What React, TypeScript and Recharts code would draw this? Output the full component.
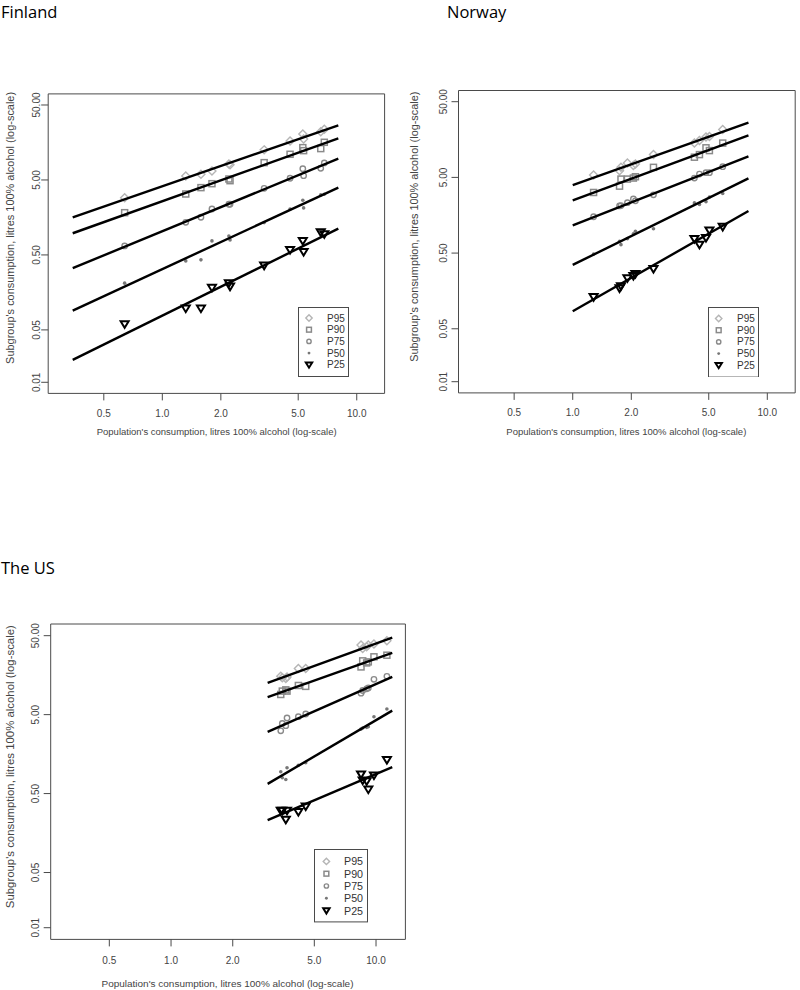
import React from "react";
import { ScatterChart, Scatter, XAxis, YAxis, ReferenceArea, Legend } from "recharts";

const SERIES = ["P95", "P90", "P75", "P50", "P25"];
const X_TICKS = [0.5, 1, 2, 5, 10];
const Y_TICKS = [0.01, 0.05, 0.5, 5, 50];
const X_DOMAIN = [0.2588, 13.91];
const Y_DOMAIN = [0.00711, 70.3];

// Finland
const FI_X = [0.64, 1.32, 1.58, 1.8, 2.2, 2.23, 3.34, 4.54, 5.28, 5.33, 6.53, 6.81];
const FI_P95 = [2.9, 5.65, 5.96, 6.59, 8.17, 8.0, 12.6, 16.6, 20.5, 17.6, 22.0, 23.7];
const FI_P90 = [1.83, 3.25, 3.95, 4.46, 5.15, 4.89, 8.51, 11.0, 13.5, 12.3, 13.1, 15.9];
const FI_P75 = [0.659, 1.36, 1.59, 2.05, 2.37, 2.37, 3.87, 5.27, 7.08, 5.7, 7.16, 8.43];
const FI_P50 = [0.21, 0.416, 0.43, 0.769, 0.895, 0.793, 1.35, 2.05, 2.68, 2.12, 3.16, 3.22];
const FI_P25 = [0.0596, 0.0962, 0.0962, 0.182, 0.21, 0.189, 0.36, 0.583, 0.769, 0.548, 1.0, 0.944];
const FI_FIT_X = [0.346, 8.04];
const FI_FIT_P95 = [1.59, 26.8];
const FI_FIT_P90 = [0.973, 18.0];
const FI_FIT_P75 = [0.333, 9.6];
const FI_FIT_P50 = [0.0904, 3.95];
const FI_FIT_P25 = [0.0199, 1.12];

// Norway
const NO_X = [1.28, 1.74, 1.77, 1.91, 2.05, 2.1, 2.6, 4.22, 4.48, 4.84, 5.04, 5.9];
const NO_P95 = [5.37, 6.14, 6.79, 7.76, 7.2, 7.53, 10.0, 14.2, 15.4, 17.1, 17.4, 21.4];
const NO_P90 = [3.16, 3.83, 4.75, 4.75, 4.9, 5.1, 6.79, 9.24, 10.0, 12.3, 11.3, 14.2];
const NO_P75 = [1.51, 2.1, 2.12, 2.32, 2.6, 2.45, 2.94, 4.9, 5.53, 5.77, 5.77, 6.93];
const NO_P50 = [0.485, 0.716, 0.646, 0.776, 0.9, 0.973, 1.05, 2.3, 2.2, 2.39, 2.76, 3.06];
const NO_P25 = [0.131, 0.171, 0.183, 0.232, 0.249, 0.265, 0.309, 0.769, 0.646, 0.793, 0.993, 1.11];
const NO_FIT_X = [1.0, 8.0];
const NO_FIT_P95 = [3.95, 26.5];
const NO_FIT_P90 = [2.49, 18.0];
const NO_FIT_P75 = [1.16, 9.5];
const NO_FIT_P50 = [0.349, 4.85];
const NO_FIT_P25 = [0.0851, 1.8];

// The US
const US_X = [3.43, 3.49, 3.63, 3.68, 4.18, 4.54, 8.45, 8.61, 9.0, 9.17, 9.77, 11.3];
const US_P95 = [15.3, 14.7, 14.3, 15.0, 19.2, 19.2, 38.0, 34.4, 36.2, 38.0, 39.2, 43.2];
const US_P90 = [9.0, 9.93, 10.3, 9.93, 11.7, 11.4, 20.1, 24.0, 22.6, 23.3, 27.0, 28.3];
const US_P75 = [3.12, 3.87, 3.62, 4.53, 4.71, 5.09, 9.35, 10.1, 10.6, 10.9, 14.0, 15.3];
const US_P50 = [0.946, 0.793, 0.755, 1.06, 1.14, 1.23, 3.28, 3.38, 3.45, 3.51, 4.71, 5.9];
const US_P25 = [0.303, 0.303, 0.233, 0.303, 0.292, 0.344, 0.875, 0.733, 0.718, 0.562, 0.849, 1.33];
const US_FIT_X = [2.96, 12.0];
const US_FIT_P95 = [12.6, 47.1];
const US_FIT_P90 = [8.32, 30.3];
const US_FIT_P75 = [3.03, 15.0];
const US_FIT_P50 = [0.664, 5.62];
const US_FIT_P25 = [0.231, 1.08];

const X_TITLE = "Population's consumption, litres 100% alcohol (log-scale)";
const Y_TITLE = "Subgroup's consumption, litres 100% alcohol (log-scale)";

const FONT = '"Liberation Sans", Arial, sans-serif';
const AXIS = "#4a4a4a";

function Mark({ kind, cx, cy, k = 1 }: { kind: string; cx: number; cy: number; k?: number }) {
  if (cx == null || cy == null) return <g />;
  if (kind === "P95") {
    const r = 4 * k;
    return (
      <polygon
        points={`${cx},${cy - r} ${cx + r},${cy} ${cx},${cy + r} ${cx - r},${cy}`}
        fill="none"
        stroke="#b5b5b5"
        strokeWidth={1.4}
      />
    );
  }
  if (kind === "P90") {
    const s = 3 * k;
    return <rect x={cx - s} y={cy - s} width={2 * s} height={2 * s} fill="none" stroke="#8a8a8a" strokeWidth={1.5} />;
  }
  if (kind === "P75") {
    return <circle cx={cx} cy={cy} r={2.7 * k} fill="none" stroke="#8a8a8a" strokeWidth={1.4} />;
  }
  if (kind === "P50") {
    return <circle cx={cx} cy={cy} r={1.8 * k} fill="#777" />;
  }
  const a = 4 * k;
  return (
    <polygon
      points={`${cx - a},${cy - 3 * k} ${cx + a},${cy - 3 * k} ${cx},${cy + 3.6 * k}`}
      fill="none"
      stroke="#000"
      strokeWidth={2}
      strokeLinejoin="miter"
    />
  );
}

function LegendBox({ w, h, first, step, symX, textX, fontSize }: any) {
  return (
    <svg width={w} height={h} style={{ display: "block" }}>
      <rect x={0.5} y={0.5} width={w - 1} height={h - 1} fill="#fff" stroke={AXIS} />
      {SERIES.map((s, i) => (
        <g key={s}>
          <Mark kind={s} cx={symX} cy={first + i * step} k={0.8} />
          <text
            x={textX}
            y={first + i * step}
            dominantBaseline="central"
            fontSize={fontSize}
            fill="#333"
            fontFamily={FONT}
          >
            {s}
          </text>
        </g>
      ))}
    </svg>
  );
}

const PANELS = [
  {
    key: "fi",
    left: 0,
    top: 0,
    w: 400,
    h: 450,
    box: [48.2, 93.9, 384.6, 393.4],
    yTickMargin: 1,
    xTickMargin: 9,
    yTitle: { x: 10.7, y: 227.9, len: 272 },
    xTitle: { x: 216.7, y: 431.3, len: 240 },
    legend: { x: 298.3, y: 307.3, w: 51, h: 70, first: 11, step: 11.7, symX: 11, textX: 29, fontSize: 10 },
    xs: FI_X,
    ys: [FI_P95, FI_P90, FI_P75, FI_P50, FI_P25],
    fitX: FI_FIT_X,
    fits: [FI_FIT_P95, FI_FIT_P90, FI_FIT_P75, FI_FIT_P50, FI_FIT_P25],
  },
  {
    key: "no",
    left: 400,
    top: 0,
    w: 400,
    h: 450,
    box: [458.5, 90.5, 795.2, 392.9],
    yTickMargin: 4.5,
    xTickMargin: 9,
    yTitle: { x: 415, y: 226.7, len: 270 },
    xTitle: { x: 626.3, y: 431, len: 240 },
    legend: { x: 708.3, y: 306.7, w: 51, h: 70.6, first: 11.5, step: 11.7, symX: 10.7, textX: 29, fontSize: 10 },
    xs: NO_X,
    ys: [NO_P95, NO_P90, NO_P75, NO_P50, NO_P25],
    fitX: NO_FIT_X,
    fits: [NO_FIT_P95, NO_FIT_P90, NO_FIT_P75, NO_FIT_P50, NO_FIT_P25],
  },
  {
    key: "us",
    left: 0,
    top: 550,
    w: 420,
    h: 440,
    box: [50.7, 624, 405.4, 939.4],
    yTickMargin: 5,
    xTickMargin: 10,
    yTitle: { x: 10.7, y: 766.7, len: 283 },
    xTitle: { x: 227.5, y: 983, len: 252 },
    legend: { x: 314.3, y: 849.3, w: 54, h: 73.4, first: 12.4, step: 12.3, symX: 12.4, textX: 30, fontSize: 10.7 },
    xs: US_X,
    ys: [US_P95, US_P90, US_P75, US_P50, US_P25],
    fitX: US_FIT_X,
    fits: [US_FIT_P95, US_FIT_P90, US_FIT_P75, US_FIT_P50, US_FIT_P25],
  },
];

const YTick = (props: any) => {
  const { x, y, payload } = props;
  return (
    <text
      x={x}
      y={y}
      transform={`rotate(-90 ${x} ${y})`}
      textAnchor="middle"
      fontSize={10}
      fill="#444"
      fontFamily={FONT}
    >
      {Number(payload.value).toFixed(2)}
    </text>
  );
};

function Panel({ cfg }: { cfg: any }) {
  const { left, top, w, h } = cfg;
  const YW = 40;
  const XH = 30;
  const bx0 = cfg.box[0] - left;
  const by0 = cfg.box[1] - top;
  const bx1 = cfg.box[2] - left;
  const by1 = cfg.box[3] - top;
  const margin = { top: by0, left: bx0 - YW, right: w - bx1, bottom: h - by1 - XH };

  const xt = { x: cfg.xTitle.x - left, y: cfg.xTitle.y - top };
  const yt = { x: cfg.yTitle.x - left, y: cfg.yTitle.y - top };
  const lg = cfg.legend;

  return (
    <div style={{ position: "absolute", left, top, width: w, height: h }}>
      <ScatterChart width={w} height={h} margin={margin}>
        <XAxis
          type="number"
          dataKey="x"
          scale="log"
          domain={X_DOMAIN}
          allowDataOverflow
          ticks={X_TICKS}
          interval={0}
          tickFormatter={(v: number) => v.toFixed(1)}
          tick={{ fontSize: 10, fill: "#444", fontFamily: FONT }}
          tickLine={{ stroke: AXIS }}
          tickSize={7}
          tickMargin={cfg.xTickMargin}
          axisLine={false}
          height={XH}
          label={{
            value: X_TITLE,
            content: () => (
              <text
                x={xt.x}
                y={xt.y}
                textAnchor="middle"
                dominantBaseline="central"
                fontSize={9.6}
                fill="#444"
                fontFamily={FONT}
                textLength={cfg.xTitle.len}
                lengthAdjust="spacingAndGlyphs"
              >
                {X_TITLE}
              </text>
            ),
          }}
        />
        <YAxis
          type="number"
          dataKey="y"
          scale="log"
          domain={Y_DOMAIN}
          allowDataOverflow
          ticks={Y_TICKS}
          interval={0}
          tick={YTick}
          tickLine={{ stroke: AXIS }}
          tickSize={7}
          tickMargin={cfg.yTickMargin}
          axisLine={false}
          width={YW}
          label={{
            value: Y_TITLE,
            content: () => (
              <text
                x={yt.x}
                y={yt.y}
                transform={`rotate(-90 ${yt.x} ${yt.y})`}
                textAnchor="middle"
                dominantBaseline="central"
                fontSize={10}
                fill="#444"
                fontFamily={FONT}
                textLength={cfg.yTitle.len}
                lengthAdjust="spacingAndGlyphs"
              >
                {Y_TITLE}
              </text>
            ),
          }}
        />
        <ReferenceArea
          x1={X_DOMAIN[0]}
          x2={X_DOMAIN[1]}
          y1={Y_DOMAIN[0]}
          y2={Y_DOMAIN[1]}
          fill="none"
          fillOpacity={0}
          stroke={AXIS}
          strokeWidth={1}
          ifOverflow="visible"
        />
        {SERIES.map((s, i) => (
          <Scatter
            key={`pts-${s}`}
            name={s}
            data={cfg.xs.map((x: number, j: number) => ({ x, y: cfg.ys[i][j] }))}
            fill="#777"
            isAnimationActive={false}
            shape={(p: any) => <Mark kind={s} cx={p.cx} cy={p.cy} />}
          />
        ))}
        {SERIES.map((s, i) => (
          <Scatter
            key={`fit-${s}`}
            name={`fit-${s}`}
            legendType="none"
            data={cfg.fitX.map((x: number, j: number) => ({ x, y: cfg.fits[i][j] }))}
            fill="#000"
            line={{ stroke: "#000", strokeWidth: 2.4 }}
            isAnimationActive={false}
            shape={() => <g />}
          />
        ))}
        <Legend
          layout="vertical"
          align="center"
          verticalAlign="middle"
          wrapperStyle={{ left: lg.x - left, top: lg.y - top, width: lg.w, height: lg.h }}
          content={() => (
            <LegendBox
              w={lg.w}
              h={lg.h}
              first={lg.first}
              step={lg.step}
              symX={lg.symX}
              textX={lg.textX}
              fontSize={lg.fontSize}
            />
          )}
        />
      </ScatterChart>
    </div>
  );
}

const titleStyle: React.CSSProperties = {
  position: "absolute",
  fontFamily: "'Open Sans', sans-serif",
  fontWeight: 400,
  fontSize: 16.5,
  lineHeight: "normal",
  color: "#000",
  whiteSpace: "nowrap",
};

export default function App() {
  return (
    <div
      style={{
        position: "absolute",
        left: 0,
        top: 0,
        width: 800,
        height: 990,
        background: "#fff",
        overflow: "hidden",
      }}
    >
      <div style={{ ...titleStyle, left: 1, top: 0 }}>Finland</div>
      <div style={{ ...titleStyle, left: 447, top: 0 }}>Norway</div>
      <div style={{ ...titleStyle, left: 1, top: 556 }}>The US</div>
      {PANELS.map((cfg) => (
        <Panel key={cfg.key} cfg={cfg} />
      ))}
    </div>
  );
}
